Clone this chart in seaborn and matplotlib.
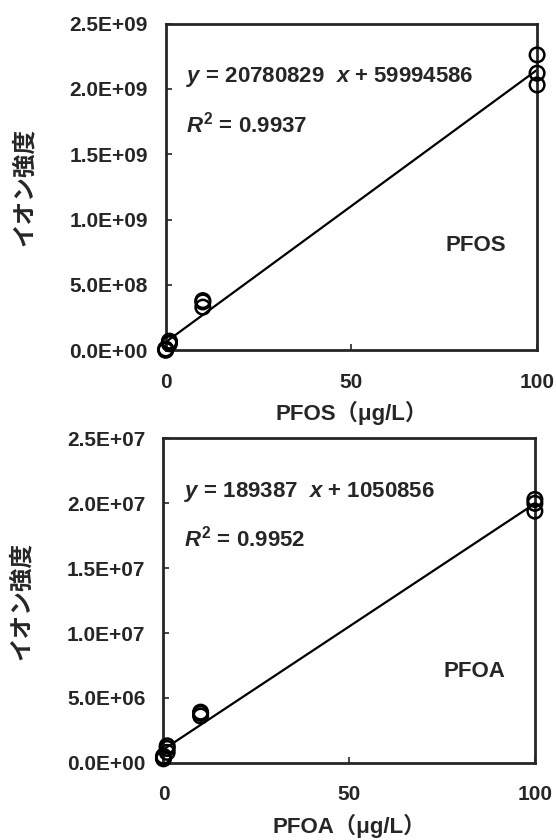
import seaborn as sns
import pandas as pd
import numpy as np
import matplotlib.pyplot as plt
from matplotlib.ticker import FuncFormatter

# concentration (ug/L) and ion intensity
conc = [0, 0, 0, 1, 1, 1, 10, 10, 10, 100, 100, 100]
pfos = [0.0, 0.005e9, 0.01e9, 0.05e9, 0.06e9, 0.07e9,
        0.33e9, 0.37e9, 0.38e9, 2.03e9, 2.12e9, 2.26e9]
pfoa = [0.3e6, 0.5e6, 0.4e6, 0.8e6, 1.3e6, 1.1e6,
        3.6e6, 3.9e6, 3.8e6, 19.4e6, 20.0e6, 20.3e6]

eq_pfos = ["20780829", "59994586", "0.9937"]
eq_pfoa = ["189387", "1050856", "0.9952"]
yticks_pfos = [0, 5e8, 1e9, 1.5e9, 2e9, 2.5e9]
yticks_pfoa = [0, 5e6, 1e7, 1.5e7, 2e7, 2.5e7]

sns.set_style("ticks")
plt.rcParams['font.family'] = ['Liberation Sans', 'Noto Sans CJK JP', 'DejaVu Sans']
plt.rcParams['font.weight'] = 'bold'
plt.rcParams['mathtext.fontset'] = 'custom'
plt.rcParams['mathtext.it'] = 'Liberation Sans:italic:bold'
plt.rcParams['mathtext.rm'] = 'Liberation Sans:bold'
plt.rcParams['mathtext.bf'] = 'Liberation Sans:bold'

fig = plt.figure(figsize=(5.56, 8.4), dpi=100)
ax1 = fig.add_axes([0.298, 0.583, 0.668, 0.389])
ax2 = fig.add_axes([0.294, 0.092, 0.668, 0.386])

def sci(v, pos):
    return "%.1E" % v

def draw(ax, y, name, eq, ticks, xlab, name_y):
    df = pd.DataFrame({'x': conc, 'y': y})
    sns.regplot(data=df, x='x', y='y', ax=ax, ci=None, scatter=False,
                line_kws=dict(color='black', lw=1.6))
    sns.scatterplot(data=df, x='x', y='y', ax=ax, marker='o', s=110,
                    facecolor='none', edgecolor='black', linewidth=1.8,
                    clip_on=False, zorder=5)
    ax.set_xlim(0, 100)
    ax.set_ylim(ticks[0], ticks[-1])
    ax.set_xticks([0, 50, 100])
    ax.set_yticks(ticks)
    ax.yaxis.set_major_formatter(FuncFormatter(sci))
    ax.tick_params(direction='in', length=4, width=1.2, labelsize=15)
    ax.tick_params(axis='x', pad=16)
    ax.tick_params(axis='y', pad=13)
    for t in ax.get_xticklabels() + ax.get_yticklabels():
        t.set_fontweight('bold')
    for s in ax.spines.values():
        s.set_linewidth(2)
        s.set_visible(True)
    ax.set_xlabel(xlab, fontsize=16, fontweight='bold',
                  family=['Liberation Sans', 'Noto Sans CJK JP'], labelpad=7)
    ax.set_ylabel("イオン強度", fontsize=17, fontweight='bold',
                  family=['Noto Sans CJK JP', 'DejaVu Sans'])
    ax.yaxis.set_label_coords(-0.35, 0.5)
    ax.text(0.055, 0.835, r"$y$" + " = " + eq[0] + "  " + r"$x$" + " + " + eq[1],
            transform=ax.transAxes, fontsize=16, fontweight='bold', va='center')
    ax.text(0.055, 0.69, r"$R^2$" + " = " + eq[2],
            transform=ax.transAxes, fontsize=16, fontweight='bold', va='center')
    ax.text(0.753, name_y, name, transform=ax.transAxes, fontsize=16,
            fontweight='bold', va='center')

draw(ax1, pfos, "PFOS", eq_pfos, yticks_pfos, "PFOS（μg/L）", 0.32)
draw(ax2, pfoa, "PFOA", eq_pfoa, yticks_pfoa, "PFOA（μg/L）", 0.28)

fig.savefig("out.png", dpi=100)
